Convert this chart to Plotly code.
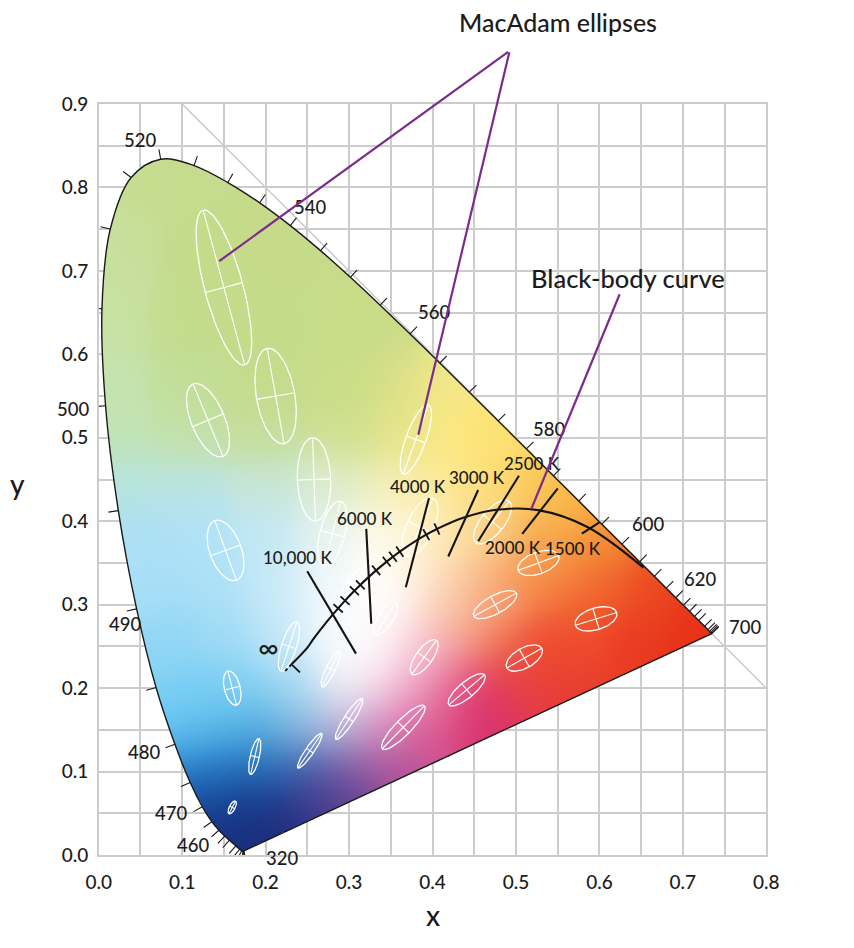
import base64, zlib, struct
import numpy as np
import plotly.graph_objects as go

# ---------------- data ----------------
# spectral locus (CIE 1931 2 deg), wavelength in nm
wl = [380,385,390,395,400,405,410,415,420,425,430,435,440,445,450,455,460,465,470,475,
      480,485,490,495,500,505,510,515,520,525,530,535,540,545,550,555,560,565,570,575,
      580,585,590,595,600,605,610,615,620,625,630,635,640,645,650,655,660,665,670,675,
      680,685,690,695,700]
loc_x = [0.1741,0.1740,0.1738,0.1736,0.1733,0.1730,0.1726,0.1721,0.1714,0.1703,0.1689,0.1669,0.1644,0.1611,0.1566,0.1510,0.1440,0.1355,0.1241,0.1096,
         0.0913,0.0687,0.0454,0.0235,0.0082,0.0039,0.0139,0.0389,0.0743,0.1142,0.1547,0.1929,0.2296,0.2658,0.3016,0.3373,0.3731,0.4087,0.4441,0.4788,
         0.5125,0.5448,0.5752,0.6029,0.6270,0.6482,0.6658,0.6801,0.6915,0.7006,0.7079,0.7140,0.7190,0.7230,0.7260,0.7283,0.7300,0.7311,0.7320,0.7327,
         0.7334,0.7340,0.7344,0.7346,0.7347]
loc_y = [0.0050,0.0050,0.0049,0.0049,0.0048,0.0048,0.0048,0.0048,0.0051,0.0058,0.0069,0.0086,0.0109,0.0138,0.0177,0.0227,0.0297,0.0399,0.0578,0.0868,
         0.1327,0.2007,0.2950,0.4127,0.5384,0.6548,0.7502,0.8120,0.8338,0.8262,0.8059,0.7816,0.7543,0.7243,0.6923,0.6589,0.6245,0.5896,0.5547,0.5202,
         0.4866,0.4544,0.4242,0.3965,0.3725,0.3514,0.3340,0.3197,0.3083,0.2993,0.2920,0.2859,0.2809,0.2770,0.2740,0.2717,0.2700,0.2689,0.2680,0.2673,
         0.2666,0.2660,0.2656,0.2654,0.2653]

# wavelength labels
label_wl   = [460, 470, 480, 490, 500, 520, 540, 560, 580, 600, 620, 700, 380]
label_text = ["460","470","480","490","500","520","540","560","580","600","620","700","320"]

# black-body (Planckian) locus, temperature in K (None = infinity)
bb_T = [1000,1500,2000,2500,3000,3500,3750,4000,4500,4750,5000,5500,6000,6500,7000,8000,9000,10000,12000,15000,20000,30000,None]
bb_x = [0.6528,0.5857,0.5267,0.4770,0.4369,0.4053,0.3925,0.3805,0.3608,0.3526,0.3451,0.3325,0.3221,0.3135,0.3064,0.2952,0.2869,0.2807,0.2720,0.2637,0.2565,0.2501,0.2310]
bb_y = [0.3444,0.3931,0.4133,0.4137,0.4041,0.3907,0.3839,0.3768,0.3636,0.3574,0.3516,0.3411,0.3318,0.3237,0.3166,0.3048,0.2956,0.2884,0.2779,0.2673,0.2577,0.2486,0.2285]
bb_minor_T = [9000, 8000, 7000, 6500, 5500, 5000, 4750, 4500, 3750, 3500]

# labelled isotherm lines
iso_label = ["10,000 K", "6000 K", "4000 K", "3000 K", "2500 K", "2000 K", "1500 K"]
iso_x1 = [0.2499, 0.3206, 0.3958, 0.4547, 0.5036, 0.5501, 0.6000]
iso_y1 = [0.3401, 0.3908, 0.4279, 0.4374, 0.4545, 0.4393, 0.3987]
iso_x2 = [0.3083, 0.3266, 0.3680, 0.4189, 0.4547, 0.5076, 0.5790]
iso_y2 = [0.2413, 0.2772, 0.3209, 0.3577, 0.3760, 0.3848, 0.3850]
iso_lab_x = [0.2382, 0.3194, 0.3827, 0.4531, 0.5187, 0.4961, 0.5689]
iso_lab_y = [0.3565, 0.4031, 0.4414, 0.4522, 0.4689, 0.3684, 0.3672]

# MacAdam ellipses: centre, semi-axes (x1e-3), angle (deg)
ell_x = [0.160,0.187,0.253,0.150,0.131,0.212,0.258,0.152,0.280,0.380,0.160,0.228,0.305,
         0.385,0.472,0.527,0.475,0.510,0.596,0.344,0.390,0.441,0.278,0.300,0.365]
ell_y = [0.057,0.118,0.125,0.680,0.521,0.550,0.450,0.365,0.385,0.498,0.200,0.250,0.323,
         0.393,0.399,0.350,0.300,0.236,0.283,0.284,0.237,0.198,0.223,0.163,0.153]
ell_a = [0.85,2.2,2.5,9.6,4.7,5.8,5.0,3.8,4.0,4.4,2.1,3.1,2.3,3.8,3.2,2.6,2.9,2.4,2.6,2.3,2.5,2.8,2.4,2.9,3.6]
ell_b = [0.35,0.55,0.50,2.3,2.0,2.3,2.0,1.9,1.5,1.2,0.95,0.9,0.9,1.6,1.4,1.3,1.1,1.2,1.3,0.9,1.0,0.95,0.55,0.6,0.95]
ell_t = [62.5,77,55.5,105,112.5,100,92,110,75.5,70,104,72,58,65.5,51,20,28.5,29.5,17,57.5,54,40,64,57,45.5]

diag_x = [0.1, 0.8]
diag_y = [0.9, 0.2]

x_ticks = [round(0.05 * i, 2) for i in range(17)]
y_ticks = [round(0.05 * i, 2) for i in range(19)]

# ---------------- style ----------------
FONT = "Lato, 'Open Sans', sans-serif"
TXT = "#1c1c1c"
WEIGHT = 500
PURPLE = "#7b2c8c"
ELL_SCALE = 10.0

# colour anchors used to paint the gamut (x, y, colour)
anchors = [
    (0.08,0.80,'#c6dd90'),
    (0.03,0.72,'#c8e09c'),(0.12,0.72,'#c4db8a'),(0.22,0.72,'#c6dc8a'),
    (0.02,0.64,'#c8e2a4'),(0.10,0.64,'#c3dc8c'),(0.20,0.64,'#c4dc8a'),(0.30,0.64,'#c8dc88'),(0.35,0.62,'#cadc88'),
    (0.02,0.56,'#c6e4b0'),(0.10,0.56,'#c2de98'),(0.20,0.56,'#c4dc8c'),(0.30,0.56,'#cadd88'),(0.36,0.56,'#d8e088'),(0.40,0.565,'#f6e98a'),
    (0.03,0.50,'#c2e4b8'),(0.10,0.50,'#c4e2a8'),(0.20,0.50,'#c6df9c'),(0.30,0.50,'#d0e090'),(0.36,0.50,'#e8e68a'),(0.42,0.50,'#fde984'),(0.47,0.50,'#fde272'),
    (0.03,0.44,'#b6e4e2'),(0.10,0.44,'#bae4e6'),(0.20,0.44,'#c8e6dc'),(0.28,0.44,'#dcecd0'),(0.34,0.44,'#f4f0c0'),(0.40,0.44,'#fdeca0'),(0.46,0.44,'#fde080'),(0.52,0.44,'#fbcc5a'),(0.56,0.415,'#f9b84a'),
    (0.05,0.38,'#acdff6'),(0.12,0.38,'#b0e2f7'),(0.20,0.38,'#c2e8f6'),(0.27,0.38,'#e4f3f2'),(0.33,0.38,'#fffcf0'),(0.38,0.38,'#fff4d0'),(0.43,0.38,'#fde4a8'),(0.48,0.38,'#fbc880'),(0.54,0.38,'#f8a850'),(0.60,0.375,'#f58c34'),
    (0.07,0.32,'#a8dff7'),(0.14,0.32,'#ade1f7'),(0.21,0.32,'#c8eaf8'),(0.27,0.32,'#f0f8fc'),(0.32,0.32,'#ffffff'),(0.37,0.32,'#fffcf8'),(0.42,0.32,'#fdd8b8'),(0.47,0.32,'#f9ac78'),(0.53,0.32,'#f58a4c'),(0.60,0.32,'#f06630'),(0.66,0.315,'#ec4a20'),
    (0.42,0.295,'#fcd0b0'),(0.47,0.295,'#f8a474'),(0.54,0.335,'#f79040'),(0.57,0.285,'#f26030'),
    (0.09,0.26,'#90d6f4'),(0.15,0.26,'#a2dcf6'),(0.22,0.26,'#c4e8f8'),(0.28,0.26,'#f6fbfe'),(0.33,0.26,'#ffffff'),(0.37,0.26,'#fff2f4'),(0.43,0.26,'#f49c98'),(0.48,0.26,'#f27050'),(0.55,0.26,'#ef4a2e'),(0.63,0.26,'#ea3a22'),(0.71,0.27,'#e83218'),
    (0.39,0.24,'#f2a8c4'),(0.51,0.235,'#ee4a3c'),(0.56,0.245,'#f04a2a'),(0.32,0.23,'#fffcfd'),
    (0.12,0.20,'#78cef4'),(0.17,0.20,'#84d2f4'),(0.23,0.20,'#a4daf2'),(0.29,0.20,'#eaeef8'),(0.35,0.20,'#f4bcd8'),(0.40,0.20,'#ec8cb4'),(0.44,0.20,'#e04474'),(0.50,0.20,'#e43c4c'),(0.56,0.21,'#e43a34'),
    (0.14,0.15,'#56bcee'),(0.19,0.15,'#4eace2'),(0.24,0.15,'#88bce4'),(0.29,0.15,'#c0b8dc'),(0.34,0.15,'#d890c0'),(0.39,0.15,'#d8508c'),(0.46,0.17,'#d83070'),
    (0.15,0.10,'#1e6cbc'),(0.20,0.10,'#2068b4'),(0.25,0.10,'#3c5aa8'),(0.30,0.10,'#7a5aa4'),(0.35,0.10,'#b04c96'),
    (0.16,0.05,'#16408f'),(0.20,0.05,'#1a3486'),(0.25,0.05,'#3a3488'),(0.29,0.06,'#5c3a8c'),
    (0.17,0.015,'#182a78'),(0.21,0.02,'#1e2a7a'),
]
SIGMA = 0.03

# wavelength label offsets in pixels (xshift, yshift)
wl_label_shift = {460:(-26,-15),470:(-31,-6),480:(-31,-8),490:(-12,-15),500:(-33,-3),
                  520:(-21,19),540:(20,19),560:(24,22),580:(23,20),600:(26,20),
                  620:(24,19),700:(33,7),380:(38,-7)}

# ---------------- gamut image ----------------
def hex2rgb(h):
    h = h.lstrip('#')
    return np.array([int(h[i:i+2], 16) for i in (0, 2, 4)], float)

def catmull(xs, ys, k=10):
    P = np.column_stack([xs, ys])
    n = len(P)
    out = []
    for i in range(n - 1):
        p0 = P[max(i - 1, 0)]; p1 = P[i]; p2 = P[i + 1]; p3 = P[min(i + 2, n - 1)]
        for t in np.linspace(0, 1, k, endpoint=False):
            t2, t3 = t * t, t * t * t
            out.append(0.5 * ((2 * p1) + (-p0 + p2) * t + (2 * p0 - 5 * p1 + 4 * p2 - p3) * t2
                              + (-p0 + 3 * p1 - 3 * p2 + p3) * t3))
    out.append(P[-1])
    out = np.array(out)
    return out[:, 0], out[:, 1]

res = 0.001
gx = np.arange(0, 0.8, res) + res / 2
gy = np.arange(0, 0.9, res) + res / 2
X, Y = np.meshgrid(gx, gy)
num = np.zeros(X.shape + (3,))
den = np.zeros(X.shape) + 1e-300
for ax_, ay_, col in anchors:
    w = np.exp(-((X - ax_) ** 2 + (Y - ay_) ** 2) / (2 * SIGMA ** 2))
    num += w[..., None] * hex2rgb(col)
    den += w
rgb = num / den[..., None]

sx, sy = catmull(loc_x, loc_y)
px_ = np.append(sx, sx[0])
py_ = np.append(sy, sy[0])
inside = np.zeros(X.shape, bool)
with np.errstate(divide='ignore', invalid='ignore'):
    for i in range(len(px_) - 1):
        x1, y1, x2, y2 = px_[i], py_[i], px_[i + 1], py_[i + 1]
        if y1 == y2:
            continue
        cond = (y1 > Y) != (y2 > Y)
        xint = x1 + (Y - y1) * (x2 - x1) / (y2 - y1)
        inside ^= cond & (X < xint)

rgba = np.zeros(X.shape + (4,), np.uint8)
rgba[..., :3] = np.clip(rgb, 0, 255).astype(np.uint8)
rgba[..., 3] = np.where(inside, 255, 0).astype(np.uint8)

def png_uri(arr):
    h, w_, _ = arr.shape
    raw = b''.join(b'\x00' + arr[i].tobytes() for i in range(h))
    def chunk(tag, data):
        return struct.pack('>I', len(data)) + tag + data + struct.pack('>I', zlib.crc32(tag + data) & 0xffffffff)
    png = (b'\x89PNG\r\n\x1a\n' + chunk(b'IHDR', struct.pack('>IIBBBBB', w_, h, 8, 6, 0, 0, 0))
           + chunk(b'IDAT', zlib.compress(raw, 9)) + chunk(b'IEND', b''))
    return 'data:image/png;base64,' + base64.b64encode(png).decode()

img_uri = png_uri(rgba)   # row 0 = lowest y

# ---------------- figure ----------------
fig = go.Figure()

fig.add_shape(type='line', x0=diag_x[0], y0=diag_y[0], x1=diag_x[1], y1=diag_y[1],
              xref='x', yref='y', layer='below', line=dict(color='#c4c4c4', width=1.3))

fig.add_trace(go.Image(source=img_uri, x0=res / 2, y0=res / 2, dx=res, dy=res, hoverinfo='skip'))

# MacAdam ellipses with axes
t = np.linspace(0, 2 * np.pi, 90)
exs, eys, cxs, cys = [], [], [], []
for cx, cy, a, b, th in zip(ell_x, ell_y, ell_a, ell_b, ell_t):
    A = a * ELL_SCALE / 1000.0
    B = b * ELL_SCALE / 1000.0
    c, s = np.cos(np.radians(th)), np.sin(np.radians(th))
    u = A * np.cos(t)
    v = B * np.sin(t)
    exs += list(cx + u * c - v * s) + [None]
    eys += list(cy + u * s + v * c) + [None]
    cxs += [cx - A * c, cx + A * c, None, cx + B * s, cx - B * s, None]
    cys += [cy - A * s, cy + A * s, None, cy - B * c, cy + B * c, None]
fig.add_trace(go.Scatter(x=exs, y=eys, mode='lines', line=dict(color='white', width=1.3), hoverinfo='skip'))
fig.add_trace(go.Scatter(x=cxs, y=cys, mode='lines', line=dict(color='white', width=1.1), hoverinfo='skip'))

# spectral locus outline (smooth curve + straight purple line)
fig.add_trace(go.Scatter(x=loc_x, y=loc_y, mode='lines', line=dict(color='#1a1a1a', width=1.4, shape='spline'),
                         hoverinfo='skip'))
fig.add_trace(go.Scatter(x=[loc_x[-1], loc_x[0]], y=[loc_y[-1], loc_y[0]], mode='lines',
                         line=dict(color='#1a1a1a', width=1.4), hoverinfo='skip'))

# wavelength ticks
n = len(wl)
tick_wl = [w_ for w_ in wl if (455 <= w_ <= 640) or (w_ % 10 == 0)]
txs, tys = [], []
for w_ in tick_wl:
    i = wl.index(w_)
    i0, i1 = max(i - 1, 0), min(i + 1, n - 1)
    tx, ty = loc_x[i1] - loc_x[i0], loc_y[i1] - loc_y[i0]
    L = np.hypot(tx, ty)
    nx, ny = -ty / L, tx / L
    txs += [loc_x[i], loc_x[i] + 0.012 * nx, None]
    tys += [loc_y[i], loc_y[i] + 0.012 * ny, None]
fig.add_trace(go.Scatter(x=txs, y=tys, mode='lines', line=dict(color='#1a1a1a', width=1.1), hoverinfo='skip'))

# black-body curve
fig.add_trace(go.Scatter(x=bb_x, y=bb_y, mode='lines', line=dict(color='#141414', width=2.1, shape='spline'),
                         hoverinfo='skip'))
mx, my = [], []
for T in bb_minor_T:
    i = bb_T.index(T)
    tx, ty = bb_x[i + 1] - bb_x[i - 1], bb_y[i + 1] - bb_y[i - 1]
    L = np.hypot(tx, ty)
    nx, ny = -ty / L, tx / L
    mx += [bb_x[i] - 0.0075 * nx, bb_x[i] + 0.0075 * nx, None]
    my += [bb_y[i] - 0.0075 * ny, bb_y[i] + 0.0075 * ny, None]
dx_, dy_ = bb_x[-1] - bb_x[-2], bb_y[-1] - bb_y[-2]
L = np.hypot(dx_, dy_)
dx_, dy_ = dx_ / L, dy_ / L
mx += [bb_x[-1], bb_x[-1] - 0.014 * dy_, None]
my += [bb_y[-1], bb_y[-1] + 0.014 * dx_, None]
fig.add_trace(go.Scatter(x=mx, y=my, mode='lines', line=dict(color='#141414', width=1.8), hoverinfo='skip'))
fig.add_trace(go.Scatter(x=[bb_x[-1], bb_x[-1] + 0.012 * dx_], y=[bb_y[-1], bb_y[-1] + 0.012 * dy_],
                         mode='lines', line=dict(color='#141414', width=2, dash='dot'), hoverinfo='skip'))

# labelled isotherms
ix, iy = [], []
for a1, b1, a2, b2 in zip(iso_x1, iso_y1, iso_x2, iso_y2):
    ix += [a1, a2, None]
    iy += [b1, b2, None]
fig.add_trace(go.Scatter(x=ix, y=iy, mode='lines', line=dict(color='#141414', width=2.1), hoverinfo='skip'))

def fnt(size):
    return dict(family=FONT, size=size, color=TXT, weight=WEIGHT)

ann = []
for lab, lx, ly in zip(iso_label, iso_lab_x, iso_lab_y):
    ann.append(dict(x=lx, y=ly, xref='x', yref='y', text=lab, showarrow=False, font=fnt(17)))
ann.append(dict(x=bb_x[-1], y=bb_y[-1], xref='x', yref='y', text='∞', showarrow=False,
                xshift=-23, yshift=17, font=fnt(28)))

for w_, lab in zip(label_wl, label_text):
    i = wl.index(w_)
    xs_, ys_ = wl_label_shift[w_]
    ann.append(dict(x=loc_x[i], y=loc_y[i], xref='x', yref='y', text=lab, showarrow=False,
                    xshift=xs_, yshift=ys_, font=fnt(18.5)))

# callouts
ann.append(dict(x=0.687, y=1.109, xref='paper', yref='paper', text='MacAdam ellipses', showarrow=False,
                xanchor='center', yanchor='middle', font=fnt(25)))
ann.append(dict(x=0.6345, y=0.6914, xref='x', yref='y', text='Black-body curve', showarrow=False,
                font=fnt(25.5)))
for hx, hy, tx_, ty_ in [(0.1444, 0.7117, 0.4925, 0.9637), (0.383, 0.5036, 0.4925, 0.9637),
                         (0.5184, 0.4147, 0.625, 0.6738)]:
    ann.append(dict(x=hx, y=hy, ax=tx_, ay=ty_, xref='x', yref='y', axref='x', ayref='y', text='',
                    showarrow=True, arrowhead=0, arrowwidth=2.2, arrowcolor=PURPLE, standoff=0,
                    startstandoff=0))

# axis titles
ann.append(dict(x=0.5, y=-0.08, xref='paper', yref='paper', text='x', showarrow=False,
                xanchor='center', yanchor='middle', font=fnt(28)))
ann.append(dict(x=-0.119, y=0.494, xref='paper', yref='paper', text='y', showarrow=False,
                xanchor='center', yanchor='middle', font=fnt(28)))

def lab(v):
    return f"{v:.1f}" if abs(round(v * 10) - v * 10) < 1e-6 else ""

axis_common = dict(showgrid=True, gridcolor='#cccccc', gridwidth=1.5, zeroline=False,
                   showline=True, mirror=True, linecolor='#cccccc', linewidth=1.5,
                   ticks='outside', tickcolor='rgba(0,0,0,0)',
                   tickfont=fnt(19), fixedrange=True)

fig.update_layout(
    width=854, height=948,
    margin=dict(l=89, r=94, t=96, b=101),
    paper_bgcolor='white', plot_bgcolor='white',
    showlegend=False,
    xaxis=dict(range=[0, 0.8], tickvals=x_ticks, ticktext=[lab(v) for v in x_ticks], ticklen=9,
               **axis_common),
    yaxis=dict(range=[0, 0.9], tickvals=y_ticks, ticktext=[lab(v) for v in y_ticks], ticklen=5,
               autorange=False, **axis_common),
    annotations=ann,
)

fig.write_html("out.html")
